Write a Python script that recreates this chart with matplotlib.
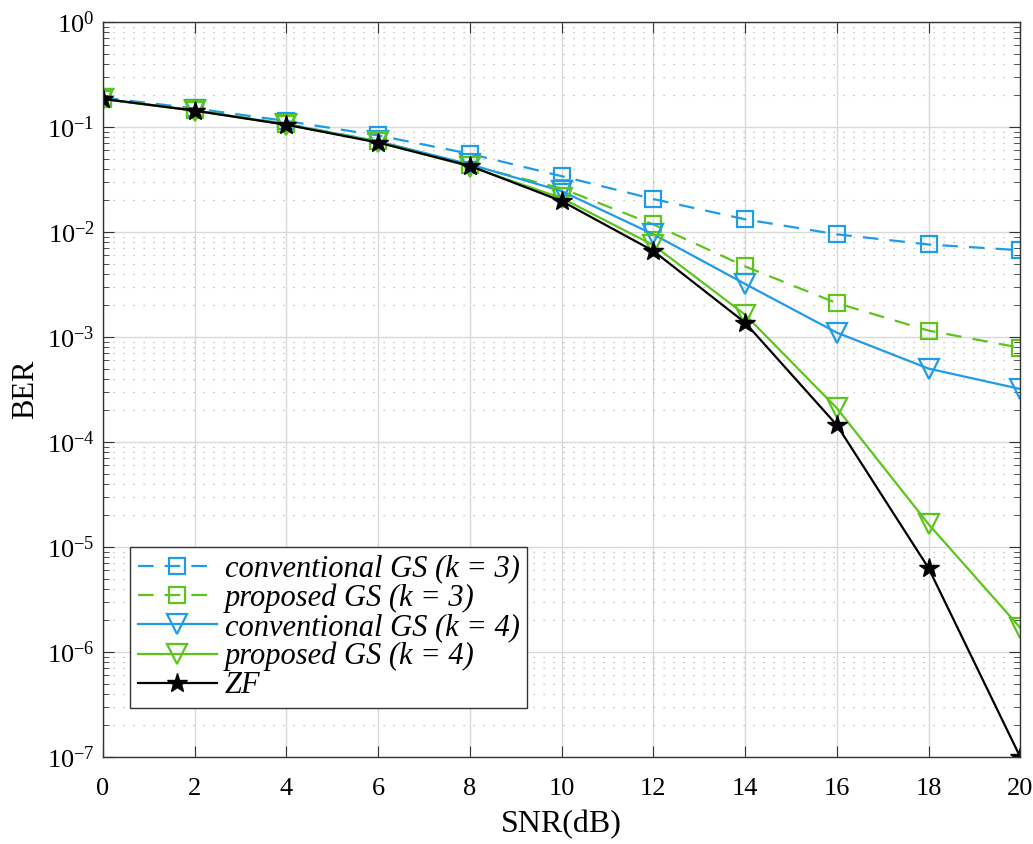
import numpy as np
import matplotlib
matplotlib.use("Agg")
import matplotlib.pyplot as plt
from matplotlib.ticker import LogLocator, NullFormatter, FixedLocator

plt.rcParams["font.family"] = ["Liberation Serif", "DejaVu Serif"]
plt.rcParams["mathtext.fontset"] = "custom"
plt.rcParams["mathtext.rm"] = "Liberation Serif"
plt.rcParams["mathtext.it"] = "Liberation Serif:italic"
plt.rcParams["axes.unicode_minus"] = False

snr = [0, 2, 4, 6, 8, 10, 12, 14, 16, 18, 20]
conv_k3 = [0.19, 0.15, 0.114, 0.083, 0.0555, 0.034, 0.0206, 0.0132, 0.0095, 0.0076, 0.0067]
prop_k3 = [0.185, 0.145, 0.107, 0.073, 0.043, 0.026, 0.0118, 0.0047, 0.0021, 0.00115, 0.00079]
conv_k4 = [0.185, 0.144, 0.106, 0.073, 0.044, 0.0245, 0.0095, 0.0032, 0.0011, 0.0005, 0.00032]
prop_k4 = [0.184, 0.143, 0.105, 0.072, 0.042, 0.021, 0.0075, 0.00163, 2.1e-4, 1.65e-5, 1.7e-6]
zf = [0.185, 0.143, 0.105, 0.071, 0.0426, 0.0197, 0.0066, 0.00137, 1.45e-4, 6.3e-6, 1.0e-7]

BLUE = "#1f9be8"
GREEN = "#5cc51c"

fig = plt.figure(figsize=(10.33, 8.44), dpi=100)
ax = fig.add_axes([0.0997, 0.103, 0.888, 0.871])

ax.semilogy(snr, conv_k3, "--s", color=BLUE, lw=1.6, dashes=(7, 5), ms=11, mfc="none", mew=1.6,
            label="conventional GS (k = 3)")
ax.semilogy(snr, prop_k3, "--s", color=GREEN, lw=1.6, dashes=(7, 5), ms=11, mfc="none", mew=1.6,
            label="proposed GS (k = 3)")
ax.semilogy(snr, conv_k4, "-v", color=BLUE, lw=1.6, ms=14, mfc="none", mew=1.6,
            label="conventional GS (k = 4)")
ax.semilogy(snr, prop_k4, "-v", color=GREEN, lw=1.6, ms=14, mfc="none", mew=1.6,
            label="proposed GS (k = 4)")
ax.semilogy(snr, zf, "-*", color="black", lw=1.6, ms=15, label="ZF")

ax.set_xlim(0, 20)
ax.set_ylim(1e-7, 1)
ax.xaxis.set_major_locator(FixedLocator(snr))
ax.yaxis.set_major_locator(LogLocator(base=10, numticks=10))
ax.yaxis.set_minor_locator(LogLocator(base=10, subs=np.arange(2, 10), numticks=20))
ax.yaxis.set_minor_formatter(NullFormatter())

ax.grid(True, which="major", color="#d9d9d9", lw=1.0)
ax.grid(True, which="minor", axis="y", color="#b5b5b5", lw=0.9, ls=(0, (1, 7)))
ax.tick_params(which="both", direction="in", top=True, right=True, colors="#333333")
ax.tick_params(which="major", length=8)
ax.tick_params(which="minor", length=4)
ax.tick_params(axis="x", labelsize=19, pad=15)
ax.tick_params(axis="y", labelsize=19, pad=6)
for lab in ax.get_xticklabels() + ax.get_yticklabels():
    lab.set_color("black")
for s in ax.spines.values():
    s.set_color("#333333")
    s.set_linewidth(1.0)

ax.set_xlabel("SNR(dB)", fontsize=23, labelpad=7)
ax.set_ylabel("BER", fontsize=22, labelpad=5)

leg = ax.legend(loc="lower left", bbox_to_anchor=(0.0294, 0.0667), borderaxespad=0,
                prop={"family": "Liberation Serif", "style": "italic", "size": 22},
                handlelength=2.6, handletextpad=0.25, labelspacing=0.0, borderpad=0.25,
                fancybox=False, framealpha=1, edgecolor="#333333")
leg.get_frame().set_linewidth(1.0)

fig.savefig("out.png", dpi=100)
